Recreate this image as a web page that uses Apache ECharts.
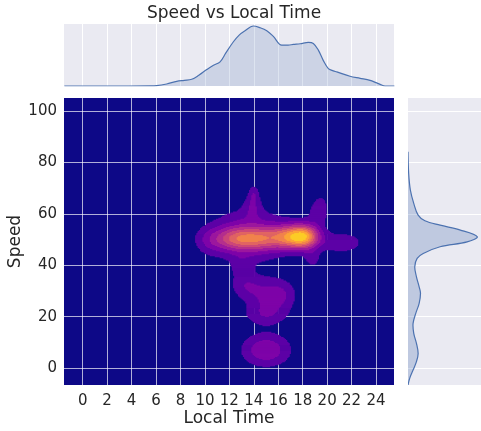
<!DOCTYPE html>
<html><head><meta charset="utf-8">
<script src="https://cdn.jsdelivr.net/npm/echarts@6/dist/echarts.min.js"></script>
<style>html,body{margin:0;padding:0;background:#fff}#c{width:481px;height:431px}</style>
</head><body><div id="c"></div>
<script>
// ---- data ----
const timeTicks = [0, 2, 4, 6, 8, 10, 12, 14, 16, 18, 20, 22, 24];
const speedTicks = [0, 20, 40, 60, 80, 100];
// density components estimated from the contour picture: [time, speed, spreadTime, spreadSpeed, weight]
const densityBlobs = [
  [16.9, 51.0, 1.1, 3.2, 0.42],
  [18.2, 51.2, 0.85, 3.2, 0.45],
  [12.9, 50.3, 1.6, 3.0, 0.335],
  [14.9, 50.5, 1.0, 3.0, 0.13],
  [13.6, 51.5, 2.2, 7.0, 0.20],
  [21.2, 48.8, 1.4, 3.2, 0.12],
  [10.3, 49.0, 0.8, 4.0, 0.06],
  [13.9, 63.0, 0.5, 3.5, 0.10],
  [14.0, 68.0, 0.3, 2.5, 0.10],
  [19.3, 60.5, 0.6, 3.5, 0.12],
  [19.5, 64.5, 0.35, 2.2, 0.05],
  [18.8, 42.5, 0.45, 2.5, 0.10],
  [15.4, 28.0, 1.3, 5.0, 0.17],
  [16.5, 29.0, 0.7, 3.5, 0.04],
  [13.3, 32.0, 0.9, 3.5, 0.11],
  [14.9, 20.5, 1.3, 3.0, 0.10],
  [13.0, 39.5, 0.6, 3.0, 0.08],
  [15.0, 7.0, 1.4, 4.5, 0.21]
];
// marginal density of Local Time (top panel)
const timeMarginT = [-1.5, 2, 5.5, 6.05, 6.87, 7.69, 8.3, 8.92, 9.5, 10.15, 10.7, 11.24, 11.7, 12.33, 12.8, 13.28, 13.96, 14.5, 15.06, 15.6, 16.28, 16.8, 17.23, 17.8, 18.46, 18.87, 19.28, 19.7, 20.1, 20.5, 20.79, 21.87, 22.7, 23.51, 24.0, 24.33, 24.74, 25.5];
const timeMarginD = [0, 0, 0.3, 1, 6, 14, 17, 20, 32, 49, 62, 72, 98, 132, 152, 165, 179, 174, 165, 148, 122, 122, 124, 126, 130, 127, 107, 75, 52, 45, 42, 29, 23, 17, 10, 5, 0, 0];
// marginal density of Speed (right panel)
const speedMarginS = [84.2, 75.7, 69.3, 64.1, 59.5, 57.3, 55.6, 53.7, 51.1, 49.1, 47.2, 44.6, 42.7, 39.4, 35.5, 31.6, 29.1, 25.2, 21.3, 17.4, 13.5, 9.6, 5.7, 2.5, -0.8, -4.0, -6.6];
const speedMarginD = [0, 2, 7, 17, 30, 50, 95, 155, 205, 175, 95, 45, 27, 20, 25, 33, 37, 33, 23, 15, 17, 25, 30, 25, 15, 5, 0];

// ---- styles ----
const levelColors = ['#0d0887', '#5c01a6', '#7e03a8', '#9c179e', '#b52f8c', '#cc4778', '#e16462', '#f2844b', '#fca636', '#fcce25'];
const FONT = 'DejaVu Sans';
const INK = '#262626';
const T0 = -1.53, T1 = 25.47, S0 = -6.6, S1 = 105.1;
const DT = 0.1, DS = 0.4;

// ---- density grid (sum of the components above) split into filled levels ----
function dens(t, s) {
  let v = 0;
  for (const b of densityBlobs) {
    const a = (t - b[0]) / b[2], c = (s - b[1]) / b[3];
    v += b[4] * Math.exp(-0.5 * (a * a + c * c));
  }
  return v;
}
const nT = Math.round((T1 - T0) / DT) + 1, nS = Math.round((S1 - S0) / DS) + 1;
const vals = [];
let vmax = 0;
for (let j = 0; j < nS; j++) {
  const row = [];
  for (let i = 0; i < nT; i++) { const v = dens(T0 + i * DT, S0 + j * DS); row.push(v); if (v > vmax) vmax = v; }
  vals.push(row);
}
const cells = [];
for (let k = 1; k < levelColors.length; k++) {
  const thr = vmax * k / 10;
  for (let j = 0; j < nS; j++) {
    let start = -1;
    for (let i = 0; i <= nT; i++) {
      const inside = i < nT && vals[j][i] >= thr;
      if (inside && start < 0) start = i;
      if (!inside && start >= 0) {
        cells.push([T0 + start * DT, T0 + (i - 1) * DT, S0 + j * DS, k]);
        start = -1;
      }
    }
  }
}

const chart = echarts.init(document.getElementById('c'), null, {renderer: 'canvas'});
const hidden = {show: false};
const gridBase = {show: true, borderWidth: 0, containLabel: false, outerBoundsMode: 'none'};
chart.setOption({
  animation: false,
  textStyle: {fontFamily: FONT},
  title: {text: 'Speed vs Local Time', left: 142, top: 0, textStyle: {fontFamily: FONT, fontSize: 17, fontWeight: 'normal', color: INK}},
  grid: [
    Object.assign({left: 64, top: 98, width: 330, height: 287, backgroundColor: levelColors[0]}, gridBase),
    Object.assign({left: 64, top: 24, width: 330, height: 62, backgroundColor: '#eaeaf2'}, gridBase),
    Object.assign({left: 408, top: 98, width: 73, height: 287, backgroundColor: '#eaeaf2'}, gridBase)
  ],
  xAxis: [
    {gridIndex: 0, type: 'value', min: T0, max: T1,
      axisLine: hidden, axisTick: {show: false, customValues: timeTicks},
      axisLabel: {customValues: timeTicks, fontSize: 15, color: INK, margin: 9, fontFamily: FONT},
      splitLine: {show: true, lineStyle: {color: 'rgba(255,255,255,0.68)', width: 1}},
      name: 'Local Time', nameLocation: 'middle', nameGap: 25, nameMoveOverlap: false,
      nameTextStyle: {fontSize: 17, color: INK, fontFamily: FONT}},
    {gridIndex: 1, type: 'value', min: T0, max: T1,
      axisLine: hidden, axisTick: {show: false, customValues: timeTicks}, axisLabel: {show: false, customValues: timeTicks},
      splitLine: {show: true, lineStyle: {color: '#ffffff', width: 1}}},
    {gridIndex: 2, type: 'value', min: 0, max: 216, axisLine: hidden, axisTick: hidden, axisLabel: hidden, splitLine: hidden}
  ],
  yAxis: [
    {gridIndex: 0, type: 'value', min: S0, max: S1,
      axisLine: hidden, axisTick: {show: false, customValues: speedTicks},
      axisLabel: {customValues: speedTicks, fontSize: 15, color: INK, margin: 7, fontFamily: FONT},
      splitLine: {show: true, lineStyle: {color: 'rgba(255,255,255,0.68)', width: 1}},
      name: 'Speed', nameLocation: 'middle', nameGap: 40, nameRotate: 90, nameMoveOverlap: false,
      nameTextStyle: {fontSize: 17, color: INK, fontFamily: FONT}},
    {gridIndex: 1, type: 'value', min: 0, max: 185, axisLine: hidden, axisTick: hidden, axisLabel: hidden, splitLine: hidden},
    {gridIndex: 2, type: 'value', min: S0, max: S1,
      axisLine: hidden, axisTick: {show: false, customValues: speedTicks}, axisLabel: {show: false, customValues: speedTicks},
      splitLine: {show: true, lineStyle: {color: '#ffffff', width: 1}}}
  ],
  series: [
    {type: 'custom', xAxisIndex: 0, yAxisIndex: 0, clip: true, data: cells,
      encode: {x: [0, 1], y: 2},
      renderItem(params, api) {
        const p0 = api.coord([api.value(0) - DT / 2, api.value(2) + DS / 2]);
        const p1 = api.coord([api.value(1) + DT / 2, api.value(2) - DS / 2]);
        return {type: 'rect', shape: {x: p0[0] - 0.2, y: p0[1] - 0.3, width: p1[0] - p0[0] + 0.4, height: p1[1] - p0[1] + 0.6},
          style: {fill: levelColors[api.value(3)]}};
      }},
    {type: 'line', xAxisIndex: 1, yAxisIndex: 1, showSymbol: false, smooth: 0.35,
      data: timeMarginT.map((t, i) => [t, timeMarginD[i]]),
      lineStyle: {color: '#4c72b0', width: 1.2}, areaStyle: {color: 'rgba(76,114,176,0.27)'}},
    {type: 'custom', xAxisIndex: 2, yAxisIndex: 2, clip: true, data: [[0, 0]],
      renderItem(params, api) {
        const pts = speedMarginS.map((s, i) => api.coord([speedMarginD[i], s]));
        return {type: 'group', children: [
          {type: 'polygon', shape: {points: pts, smooth: 0.35}, style: {fill: 'rgba(76,114,176,0.27)', stroke: null}},
          {type: 'polyline', shape: {points: pts, smooth: 0.35}, style: {fill: null, stroke: '#4c72b0', lineWidth: 1.2}}
        ]};
      }}
  ]
});
</script></body></html>
